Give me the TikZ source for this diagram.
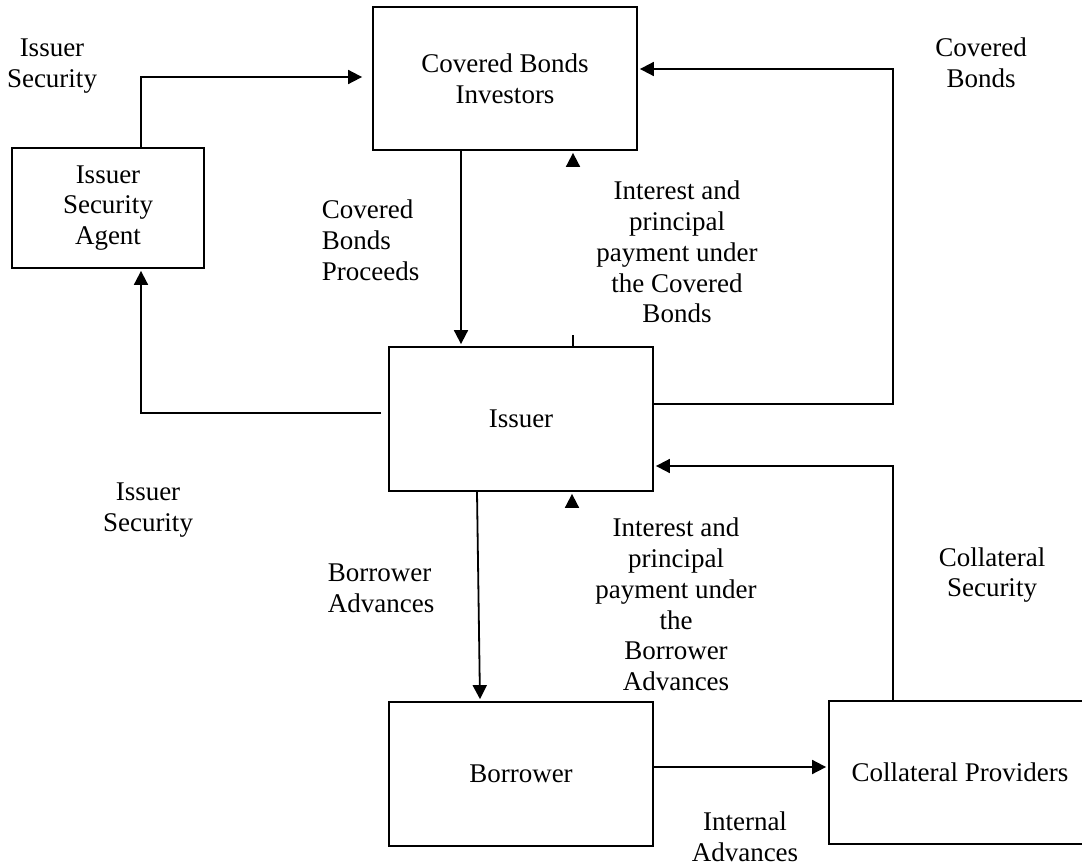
\documentclass[tikz,border=0pt]{standalone}
\usepackage{fontspec}
\setmainfont{Liberation Serif}
\usetikzlibrary{arrows.meta}

\begin{document}
\begin{tikzpicture}[x=0.5pt, y=-0.5pt, shorten >=1pt, line width=0.9pt,
	font=\fontsize{13.5}{15.4}\selectfont,
	box/.style={rectangle, draw, minimum width=132pt, minimum height=72pt, align=center},
	lbl/.style={inner sep=0pt, align=center},
	arr/.style={-{Triangle[length=7pt, width=7pt]}}]
	\clip (0, 0) rectangle (1082, 867);
	\node (inv) at (505, 78.5)	[box, minimum height=71.5pt]	{Covered Bonds\\Investors};
	\node (isa) at (108, 208)	[box, minimum width=96pt, minimum height=60pt]	{Issuer\\Security\\Agent};
	\node (iss) at (521, 419)	[box]	{Issuer};
	\node (bor) at (521, 774)	[box]	{Borrower};
	\node (cp)  at (960, 772.5)	[box, minimum width=131pt, minimum height=71.5pt]	{Collateral Providers};
	\node (l1) at ( 52,  66)	[lbl]	{Issuer\\Security};
	\node (l2) at (981,  63)	[lbl]	{Covered\\Bonds};
	\node (l3) at (321, 240.5)	[lbl, anchor=west, align=left]	{Covered\\Bonds\\Proceeds};
	\node (l4) at (677, 252)	[lbl]	{Interest and\\principal\\payment under\\the Covered\\Bonds};
	\node (l5) at (148, 510)	[lbl]	{Issuer\\Security};
	\node (l6) at (327, 588)	[lbl, anchor=west, align=left]	{Borrower\\Advances};
	\node (l7) at (676, 604.5)	[lbl]	{Interest and\\principal\\payment under\\the\\Borrower\\Advances};
	\node (l8) at (992, 575)	[lbl]	{Collateral\\Security};
	\node (l9) at (745, 837)	[lbl]	{Internal\\Advances};
	\coordinate (a1) at (141, 77);
	\coordinate (a2) at (461, 0);
	\coordinate (a3) at (573, 166);
	\coordinate (a4) at (573, 335);
	\coordinate (a5) at (893, 404);
	\coordinate (a6) at (893, 69);
	\coordinate (a7) at (141, 413);
	\coordinate (a8) at (477, 0);
	\coordinate (a9) at (480, 0);
	\coordinate (a10) at (572, 507);
	\coordinate (a11) at (893, 466);
	\coordinate (a12) at (0, 767);
	\draw[arr, shorten >=5pt] (a1 |- isa.north) -- (a1) -- (a1 -| inv.west);
	\draw[arr] (a2 |- inv.south) -- (a2 |- iss.north);
	\draw[arr] (a3) -- (a3 |- inv.south);
	\draw[shorten >=0pt] (a4) -- (a4 |- iss.north);
	\draw[arr] (a5 -| iss.east) -- (a5) -- (a6) -- (a6 -| inv.east);
	\draw[arr, shorten <=3.5pt] (a7 -| iss.west) -- (a7) -- (a7 |- isa.south);
	\draw[arr] (a8 |- iss.south) -- (a9 |- bor.north);
	\draw[arr] (a10) -- (a10 |- iss.south);
	\draw[arr] (a11 |- cp.north) -- (a11) -- (a11 -| iss.east);
	\draw[arr] (a12 -| bor.east) -- (a12 -| cp.west);
\end{tikzpicture}
\end{document}
